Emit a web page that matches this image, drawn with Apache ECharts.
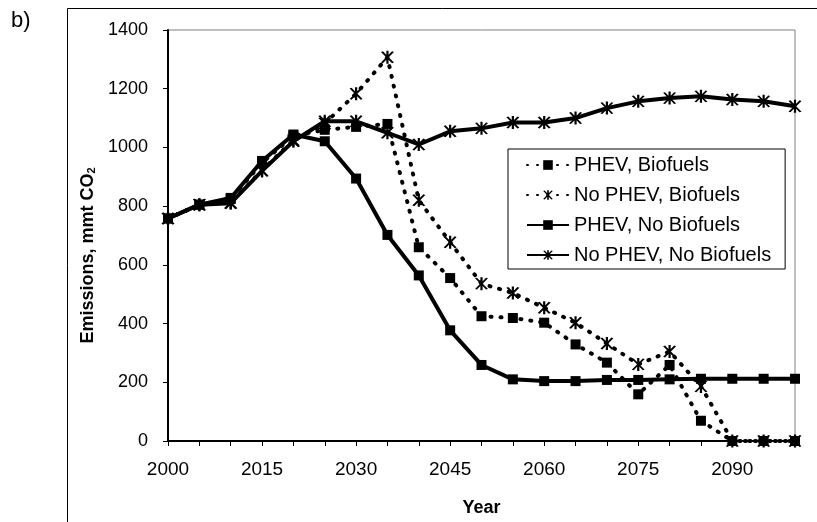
<!DOCTYPE html>
<html>
<head>
<meta charset="utf-8">
<script src="https://cdn.jsdelivr.net/npm/echarts@6/dist/echarts.min.js"></script>
<style>
  html, body { margin: 0; padding: 0; background: #fff; }
  #chart { width: 817px; height: 522px; }
</style>
</head>
<body>
<div id="chart"></div>
<script>
// years on the category axis
var years = ['2000', '2005', '2010', '2015', '2020', '2025', '2030', '2035', '2040', '2045', '2050',
  '2055', '2060', '2065', '2070', '2075', '2080', '2085', '2090', '2095', '2100'];

// emissions, mmt CO2
var phevBiofuels = [758, 805, 824, 948, 1040, 1060, 1070, 1080, 660, 555, 425, 419, 403, 329, 267, 159, 259, 69, 0, 0, 0];
var noPhevBiofuels = [758, 805, 812, 922, 1025, 1082, 1183, 1307, 820, 677, 536, 504, 454, 403, 332, 261, 305, 186, 0, 0, 0];
var phevNoBiofuels = [758, 805, 828, 954, 1044, 1021, 894, 702, 564, 377, 259, 210, 204, 204, 208, 208, 210, 212, 212, 212, 212];
var noPhevNoBiofuels = [758, 805, 810, 920, 1021, 1089, 1089, 1050, 1010, 1055, 1065, 1085, 1085, 1100, 1134, 1157, 1168, 1174, 1163, 1157, 1140];

var FONT = 'Liberation Sans, Arial, sans-serif';

// asterisk marker: vertical bar + two diagonals
var asterisk = 'path://M9 0L11 0L11 20L9 20Z' +
  'M5.87 0.84L15.87 18.16L14.13 19.16L4.13 1.84Z' +
  'M15.87 1.84L5.87 19.16L4.13 18.16L14.13 0.84Z';

var dotted = { color: '#000', width: 4, type: [1, 9], cap: 'round' };
var solid = { color: '#000', width: 4, type: 'solid' };

function makeSeries(name, data, line, symbol, size) {
  return {
    name: name,
    type: 'line',
    data: data,
    symbol: symbol,
    symbolSize: size,
    showAllSymbol: true,
    lineStyle: line,
    itemStyle: { color: '#000', borderWidth: 0 },
    emphasis: { disabled: true },
    animation: false
  };
}

var chart = echarts.init(document.getElementById('chart'));
chart.setOption({
  textStyle: { fontFamily: FONT },
  graphic: [
    {
      type: 'rect',
      shape: { x: 67.5, y: 8.5, width: 800, height: 600 },
      style: { fill: 'none', stroke: '#000', lineWidth: 1 },
      silent: true
    },
    {
      type: 'text',
      left: 11,
      top: 10,
      style: { text: 'b)', font: '22px ' + FONT, fill: '#000' }
    }
  ],
  grid: {
    left: 168,
    right: 22,
    top: 30,
    bottom: 79,
    show: true,
    borderColor: '#808080',
    borderWidth: 1
  },
  legend: {
    orient: 'vertical',
    left: 508,
    top: 149,
    padding: [6, 14, 4, 18],
    itemGap: 10,
    itemWidth: 42,
    itemHeight: 12,
    borderColor: '#000',
    borderWidth: 1,
    backgroundColor: '#fff',
    textStyle: { fontSize: 20, color: '#000', fontFamily: FONT },
    data: ['PHEV, Biofuels', 'No PHEV, Biofuels', 'PHEV, No Biofuels', 'No PHEV, No Biofuels']
  },
  xAxis: {
    type: 'category',
    data: years,
    boundaryGap: false,
    name: 'Year',
    nameLocation: 'middle',
    nameGap: 58,
    nameTextStyle: { fontSize: 18, fontWeight: 'bold', color: '#000' },
    axisLine: { lineStyle: { color: '#000', width: 2 } },
    axisTick: { interval: 0, length: 5, lineStyle: { color: '#000' } },
    axisLabel: { interval: 2, fontSize: 19, color: '#000', margin: 19 },
    splitLine: { show: false }
  },
  yAxis: {
    type: 'value',
    min: 0,
    max: 1400,
    interval: 200,
    name: '{a|Emissions, mmt CO}{s|2}',
    nameLocation: 'middle',
    nameGap: 58,
    nameTextStyle: {
      padding: [10, 40, 0, 0],
      rich: {
        a: { fontSize: 18, fontWeight: 'bold', color: '#000', fontFamily: FONT },
        s: { fontSize: 11, fontWeight: 'bold', color: '#000', fontFamily: FONT, padding: [8, 0, 0, 0] }
      }
    },
    axisLine: { show: true, lineStyle: { color: '#000', width: 2 } },
    axisTick: { show: true, length: 5, lineStyle: { color: '#000' } },
    axisLabel: { fontSize: 18, color: '#000', margin: 20, formatter: function (v) { return String(v); } },
    splitLine: { show: false }
  },
  series: [
    makeSeries('PHEV, Biofuels', phevBiofuels, dotted, 'rect', 10),
    makeSeries('No PHEV, Biofuels', noPhevBiofuels, dotted, asterisk, 13),
    makeSeries('PHEV, No Biofuels', phevNoBiofuels, solid, 'rect', 10),
    makeSeries('No PHEV, No Biofuels', noPhevNoBiofuels, solid, asterisk, 13)
  ]
});
</script>
</body>
</html>
